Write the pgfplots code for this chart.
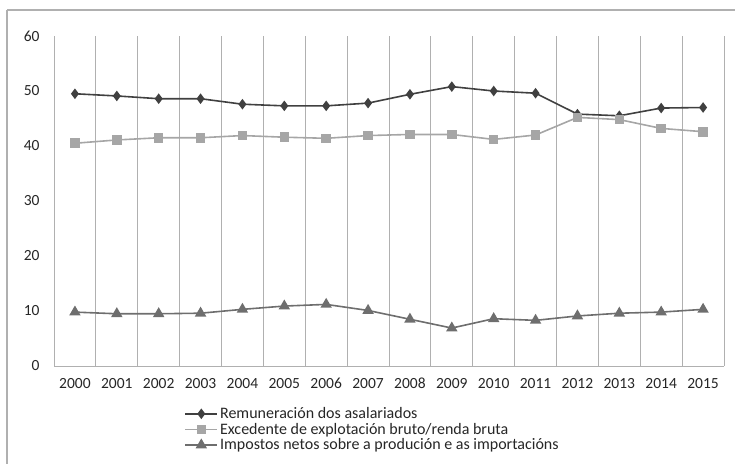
\documentclass[border=0pt]{standalone}
\usepackage{fontspec}
\setmainfont{Carlito}
\usepackage{pgfplots}
\pgfplotsset{compat=1.18}
\definecolor{cRem}{HTML}{404040}
\definecolor{cExc}{HTML}{A6A6A6}
\definecolor{cImp}{HTML}{6E6E6E}
\definecolor{cGrid}{HTML}{B0B0B0}
\definecolor{cText}{HTML}{262626}
\begin{document}
\begin{tikzpicture}
\useasboundingbox (0pt,0pt) rectangle (735pt,-463pt);
\draw[cGrid, line width=1.2pt] (7pt,-10pt) -- (745pt,-10pt);
\draw[cGrid, line width=1.2pt] (7pt,-10pt) -- (7pt,-470pt);
\begin{axis}[
  at={(54pt,-366pt)}, anchor=south west,
  scale only axis, width=670pt, height=330pt,
  xmin=-0.5, xmax=15.5, ymin=0, ymax=60,
  xtick={0,...,15},
  xticklabels={2000,2001,2002,2003,2004,2005,2006,2007,2008,2009,2010,2011,2012,2013,2014,2015},
  minor xtick={-0.5,0.5,...,15.5},
  xminorgrids,
  minor x grid style={cGrid, line width=1pt},
  minor tick length=0pt,
  major tick length=0pt,
  ytick={0,10,...,60},
  axis lines=left,
  axis line style={-, cGrid, line width=1pt},
  tick label style={font=\fontsize{15.5}{17}\selectfont, text=cText},
  /pgf/number format/assume math mode=true,
  yticklabel style={xshift=-11pt},
  xticklabel style={yshift=-8pt, text height=11pt, text depth=0pt},
  legend style={at={(0.19,-0.113)}, anchor=north west, draw=none, fill=none,
    font=\fontsize{16}{18}\selectfont, text=cText, row sep=-1pt},
  legend cell align=left,
  legend image code/.code={\draw[mark repeat=2,mark phase=2,#1] plot coordinates {(0pt,0pt) (16pt,0pt) (32pt,0pt)};},
  clip=false,
]
\addplot[cRem, line width=1.6pt, mark=diamond*, mark size=4pt, mark options={solid}] coordinates {
(0,49.5) (1,49.1) (2,48.6) (3,48.6) (4,47.6) (5,47.3) (6,47.3) (7,47.8)
(8,49.4) (9,50.8) (10,50.0) (11,49.6) (12,45.8) (13,45.5) (14,46.9) (15,47.0)};
\addlegendentry{Remuneración dos asalariados}
\addplot[cExc, line width=1.6pt, mark=square*, mark size=4pt] coordinates {
(0,40.5) (1,41.1) (2,41.5) (3,41.5) (4,41.9) (5,41.6) (6,41.4) (7,41.9)
(8,42.1) (9,42.1) (10,41.2) (11,42.0) (12,45.2) (13,44.8) (14,43.2) (15,42.6)};
\addlegendentry{Excedente de explotación bruto/renda bruta}
\addplot[cImp, line width=1.6pt, mark=triangle*, mark size=5pt] coordinates {
(0,9.8) (1,9.5) (2,9.5) (3,9.6) (4,10.3) (5,10.9) (6,11.2) (7,10.1)
(8,8.5) (9,6.9) (10,8.6) (11,8.3) (12,9.1) (13,9.6) (14,9.8) (15,10.3)};
\addlegendentry{Impostos netos sobre a produción e as importacións}
\end{axis}
\end{tikzpicture}
\end{document}
